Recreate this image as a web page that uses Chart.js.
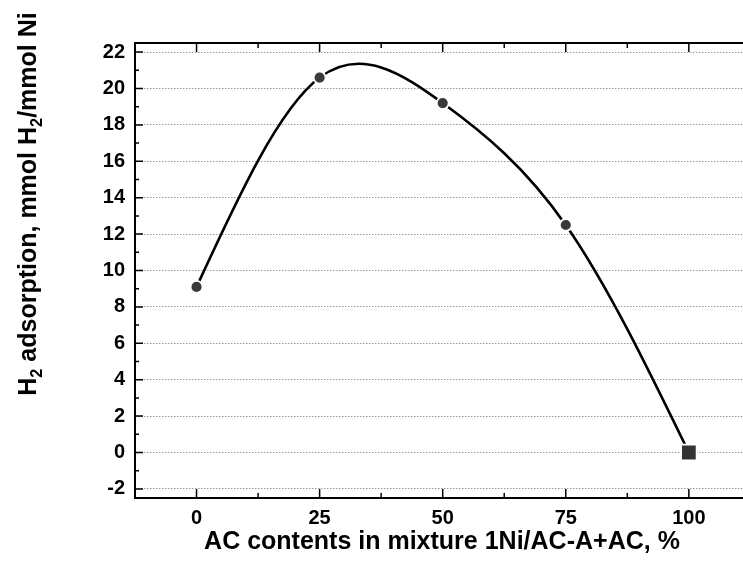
<!DOCTYPE html>
<html>
<head>
<meta charset="utf-8">
<script src="https://cdn.jsdelivr.net/npm/chart.js@4"></script>
<style>
  html, body { margin: 0; padding: 0; background: #fff; overflow: hidden; }
  #wrap { position: relative; width: 743px; height: 566px; }
  .axis-title { position: absolute; font-family: "Liberation Sans", Arial, sans-serif; font-weight: bold; font-size: 25px; color: #000; white-space: nowrap; text-align: center; }
  #xTitle { left: 142px; width: 600px; top: 526px; }
  #yTitle { left: -173px; top: 189px; width: 400px; height: 30px; line-height: 30px; transform: rotate(-90deg); }
  sub { font-size: 65%; vertical-align: -0.35em; }
</style>
</head>
<body>
<div id="wrap">
  <canvas id="chart" width="743" height="566"></canvas>
  <div class="axis-title" id="xTitle">AC contents in mixture 1Ni/AC-A+AC, %</div>
  <div class="axis-title" id="yTitle">H<sub>2</sub> adsorption, mmol H<sub>2</sub>/mmol Ni</div>
</div>
<script>
// data
const acContent = [0, 25, 50, 75, 100];
const h2Adsorption = [9.1, 20.6, 19.2, 12.5, 0];
const xTicks = [0, 25, 50, 75, 100];
const xMinorTicks = [12.5, 37.5, 62.5, 87.5];
const yTicks = [-2, 0, 2, 4, 6, 8, 10, 12, 14, 16, 18, 20, 22];
const yMinorTicks = [-1, 1, 3, 5, 7, 9, 11, 13, 15, 17, 19, 21];

const FONT = "'Liberation Sans', Arial, sans-serif";

// the original curve is a natural cubic spline through the points,
// so replace chart.js' bezier control points with the spline ones
const splinePlugin = {
  id: "spline",
  beforeDatasetsDraw(chart) {
    const meta = chart.getDatasetMeta(0);
    meta.dataset.updateControlPoints(chart.chartArea, meta.indexAxis);
    const pts = meta.data;
    const n = pts.length;
    const x = pts.map(p => p.x), y = pts.map(p => p.y);
    const h = [];
    for (let i = 0; i < n - 1; i++) h.push(x[i + 1] - x[i]);
    // tridiagonal solve for second derivatives (natural ends)
    const M = new Array(n).fill(0);
    const c = new Array(n).fill(0), d = new Array(n).fill(0);
    for (let i = 1; i < n - 1; i++) {
      const a = h[i - 1], b = 2 * (h[i - 1] + h[i]), cc = h[i];
      const r = 6 * ((y[i + 1] - y[i]) / h[i] - (y[i] - y[i - 1]) / h[i - 1]);
      const den = b - a * c[i - 1];
      c[i] = cc / den;
      d[i] = (r - a * d[i - 1]) / den;
    }
    for (let i = n - 2; i >= 1; i--) M[i] = d[i] - c[i] * M[i + 1];
    const slope = new Array(n);
    for (let i = 0; i < n - 1; i++) {
      slope[i] = (y[i + 1] - y[i]) / h[i] - h[i] * (2 * M[i] + M[i + 1]) / 6;
    }
    slope[n - 1] = (y[n - 1] - y[n - 2]) / h[n - 2] + h[n - 2] * (M[n - 2] + 2 * M[n - 1]) / 6;
    for (let i = 0; i < n; i++) {
      const p = pts[i];
      const hl = i > 0 ? h[i - 1] / 3 : 0, hr = i < n - 1 ? h[i] / 3 : 0;
      p.cp1x = x[i] - hl; p.cp1y = y[i] - hl * slope[i];
      p.cp2x = x[i] + hr; p.cp2y = y[i] + hr * slope[i];
    }
  }
};

// frame + inward tick marks
const framePlugin = {
  id: "frame",
  afterDraw(chart) {
    const { ctx, chartArea: a, scales } = chart;
    ctx.save();
    ctx.strokeStyle = "#000";
    ctx.lineWidth = 2;
    ctx.beginPath();
    ctx.moveTo(a.right, a.top);
    ctx.lineTo(a.left, a.top);
    ctx.lineTo(a.left, a.bottom);
    ctx.lineTo(a.right, a.bottom);
    ctx.stroke();

    ctx.lineWidth = 1.5;
    ctx.beginPath();
    const yTick = (v, len) => {
      const y = scales.y.getPixelForValue(v);
      ctx.moveTo(a.left, y);
      ctx.lineTo(a.left + len, y);
    };
    const xTick = (v, len) => {
      const x = scales.x.getPixelForValue(v);
      ctx.moveTo(x, a.bottom);
      ctx.lineTo(x, a.bottom - len);
      ctx.moveTo(x, a.top);
      ctx.lineTo(x, a.top + len);
    };
    yTicks.forEach(v => yTick(v, 8));
    yMinorTicks.forEach(v => yTick(v, 4));
    xTicks.forEach(v => xTick(v, 9));
    xMinorTicks.forEach(v => xTick(v, 5));
    ctx.stroke();
    ctx.restore();
  }
};

const ctx = document.getElementById("chart").getContext("2d");
new Chart(ctx, {
  type: "line",
  data: {
    datasets: [{
      data: acContent.map((x, i) => ({ x: x, y: h2Adsorption[i] })),
      borderColor: "#000",
      borderWidth: 2.6,
      tension: 0.4,
      fill: false,
      clip: false,
      pointStyle: ["circle", "circle", "circle", "circle", "rect"],
      pointRadius: [6, 6, 6, 6, 11],
      pointBackgroundColor: ["#3a3a3a", "#3a3a3a", "#3a3a3a", "#3a3a3a", "#333"],
      pointBorderColor: "#fff",
      pointBorderWidth: 1.8
    }]
  },
  options: {
    responsive: false,
    animation: false,
    devicePixelRatio: 1,
    layout: { autoPadding: false, padding: { top: 43, right: 0, left: 0, bottom: 0 } },
    plugins: { legend: { display: false }, tooltip: { enabled: false } },
    scales: {
      x: {
        type: "linear",
        min: -12.5,
        max: 111,
        afterBuildTicks: s => { s.ticks = xTicks.map(v => ({ value: v })); },
        afterFit: s => { s.height = 68; s.paddingLeft = 0; s.paddingRight = 0; },
        grid: { display: false, drawTicks: false },
        border: { display: false },
        ticks: { color: "#000", padding: 8, font: { family: FONT, size: 20, weight: "bold" } }
      },
      y: {
        min: -2.5,
        max: 22.5,
        afterBuildTicks: s => { s.ticks = yTicks.map(v => ({ value: v })); },
        afterFit: s => { s.width = 135; s.paddingTop = 0; s.paddingBottom = 0; },
        grid: { color: "#9a9a9a", lineWidth: 1, drawTicks: false },
        border: { display: false, dash: [1.5, 1.5] },
        ticks: { color: "#000", padding: 10, font: { family: FONT, size: 20, weight: "bold" } }
      }
    }
  },
  plugins: [splinePlugin, framePlugin]
});
</script>
</body>
</html>
